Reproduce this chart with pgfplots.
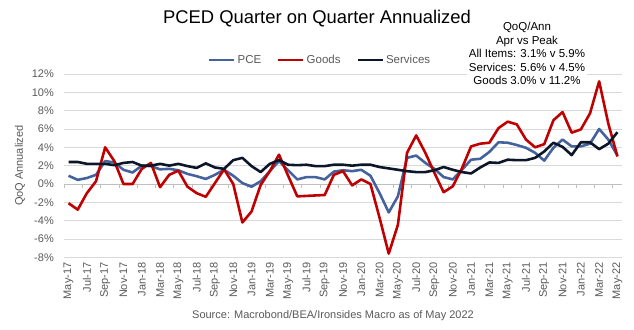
\documentclass[border=0pt]{standalone}
\usepackage{fontspec}
\setmainfont{Liberation Sans}
\usepackage{pgfplots}
\usepackage{pgfplotstable}
\pgfplotsset{compat=1.18}
\definecolor{pceblue}{RGB}{68,98,155}
\definecolor{goodsred}{RGB}{192,0,0}
\definecolor{servnavy}{RGB}{12,22,40}
\definecolor{labelgray}{RGB}{89,89,89}
\definecolor{gridgray}{RGB}{217,217,217}
\definecolor{axisgray}{RGB}{191,191,191}
\pgfplotstableread{
i pce goods services
0 0.9 -2.1 2.4
1 0.45 -2.8 2.4
2 0.65 -1.0 2.2
3 1.0 0.3 2.2
4 2.5 4.0 2.2
5 2.35 2.5 2.05
6 1.55 0.0 2.3
7 1.25 0.0 2.4
8 2.0 1.65 2.0
9 1.95 2.3 2.0
10 1.6 -0.35 2.2
11 1.65 1.0 2.0
12 1.5 1.45 2.2
13 1.1 -0.3 1.95
14 0.85 -1.0 1.75
15 0.55 -1.4 2.25
16 1.0 0.1 1.8
17 1.55 1.6 1.65
18 0.9 0.0 2.6
19 0.1 -4.2 2.85
20 -0.3 -3.0 1.95
21 0.3 -0.1 1.3
22 1.4 1.4 2.2
23 2.5 3.2 2.6
24 1.5 0.9 2.1
25 0.5 -1.35 2.05
26 0.75 -1.3 2.1
27 0.75 -1.25 1.95
28 0.5 -1.2 1.95
29 1.35 1.0 2.1
30 1.5 1.4 2.1
31 1.4 -0.15 2.0
32 1.55 0.5 2.1
33 0.9 0.0 2.1
34 -1.0 -3.7 1.85
35 -3.1 -7.6 1.7
36 -1.35 -4.45 1.55
37 2.85 3.4 1.4
38 3.1 5.3 1.3
39 2.3 3.4 1.3
40 1.65 1.2 1.5
41 0.75 -0.9 1.85
42 0.5 -0.25 1.55
43 1.55 1.7 1.3
44 2.65 4.1 1.15
45 2.75 4.4 1.8
46 3.5 4.5 2.35
47 4.55 6.1 2.3
48 4.5 6.8 2.65
49 4.25 6.5 2.6
50 3.95 4.85 2.6
51 3.4 4.0 2.85
52 2.55 4.35 3.55
53 3.95 6.95 4.5
54 4.85 7.85 4.05
55 4.1 5.6 3.15
56 4.1 5.95 4.55
57 4.4 7.7 4.55
58 6.0 11.2 3.8
59 4.85 6.6 4.4
60 3.1 3.0 5.65
}\datatable
\newcommand{\fs}[1]{\fontsize{#1}{#1}\selectfont}
\begin{document}
\begin{tikzpicture}[x=1bp,y=1bp]
\useasboundingbox (0,0) rectangle (634,-329);
% background axis: grid and labels
\begin{axis}[
  at={(64bp,-257.3bp)}, anchor=south west,
  scale only axis, width=558bp, height=183.3bp,
  xmin=-0.5, xmax=60.5, ymin=-8, ymax=12,
  axis line style={draw=none},
  ytick={-8,-6,...,12},
  yticklabels={-8\%,-6\%,-4\%,-2\%,0\%,2\%,4\%,6\%,8\%,10\%,12\%},
  ymajorgrids, grid style={draw=gridgray, line width=0.75pt},
  xtick={0,2,...,60},
  xticklabels={May-17,Jul-17,Sep-17,Nov-17,Jan-18,Mar-18,May-18,Jul-18,Sep-18,Nov-18,Jan-19,Mar-19,May-19,Jul-19,Sep-19,Nov-19,Jan-20,Mar-20,May-20,Jul-20,Sep-20,Nov-20,Jan-21,Mar-21,May-21,Jul-21,Sep-21,Nov-21,Jan-22,Mar-22,May-22},
  xticklabel style={rotate=90, anchor=east, font=\fs{11bp}, text=labelgray, inner sep=0pt},
  yticklabel style={font=\fs{11bp}, text=labelgray, inner sep=0pt},
  xticklabel shift=5bp,
  yticklabel shift=10bp,
  major tick length=0pt,
  xtick pos=bottom, ytick pos=left,
]
\end{axis}
% data axis with zero line
\begin{axis}[
  at={(64bp,-257.3bp)}, anchor=south west,
  scale only axis, width=558bp, height=183.3bp,
  xmin=-0.5, xmax=60.5, ymin=-8, ymax=12,
  axis x line=middle, axis y line=none,
  x axis line style={draw=axisgray, line width=0.75pt, -},
  xtick={-0.5,1.5,...,59.5}, xticklabels={},
  ytick=\empty,
  xtick align=outside,
  tick style={draw=axisgray, line width=0.75pt},
  major tick length=4bp,
  legend style={at={(0.459,1.076)}, anchor=center, draw=none, fill=none,
    font=\fs{11.5bp}, text=labelgray, legend columns=3,
    /tikz/every even column/.append style={column sep=14bp},
    inner sep=0pt},
  legend cell align=left,
  legend image code/.code={\draw[#1, line width=2.5pt] (0,0) -- (25bp,0);},
]
\addplot[pceblue, line width=2.6pt, line join=round] table[x=i, y=pce] {\datatable};
\addlegendentry{PCE}
\addplot[goodsred, line width=2.6pt, line join=round] table[x=i, y=goods] {\datatable};
\addlegendentry{Goods}
\addplot[servnavy, line width=2.6pt, line join=round] table[x=i, y=services] {\datatable};
\addlegendentry{Services}
\end{axis}
\node[font=\fontsize{11.5bp}{13.5bp}\selectfont, align=center, fill=white, inner xsep=2bp, inner ysep=1bp] at (527,-53.7) {QoQ/Ann\\Apr vs Peak\\All Items: 3.1\% v 5.9\%\\Services: 5.6\% v 4.5\%\\Goods 3.0\% v 11.2\%};
\node[font=\fs{18.4bp}] at (317,-19) {PCED Quarter on Quarter Annualized};
\node[font=\fs{11bp}, text=labelgray, rotate=90] at (20,-165.6) {QoQ Annualized};
\node[font=\fs{11bp}, text=labelgray] at (333,-316) {Source: Macrobond/BEA/Ironsides Macro as of May 2022};
\end{tikzpicture}
\end{document}
